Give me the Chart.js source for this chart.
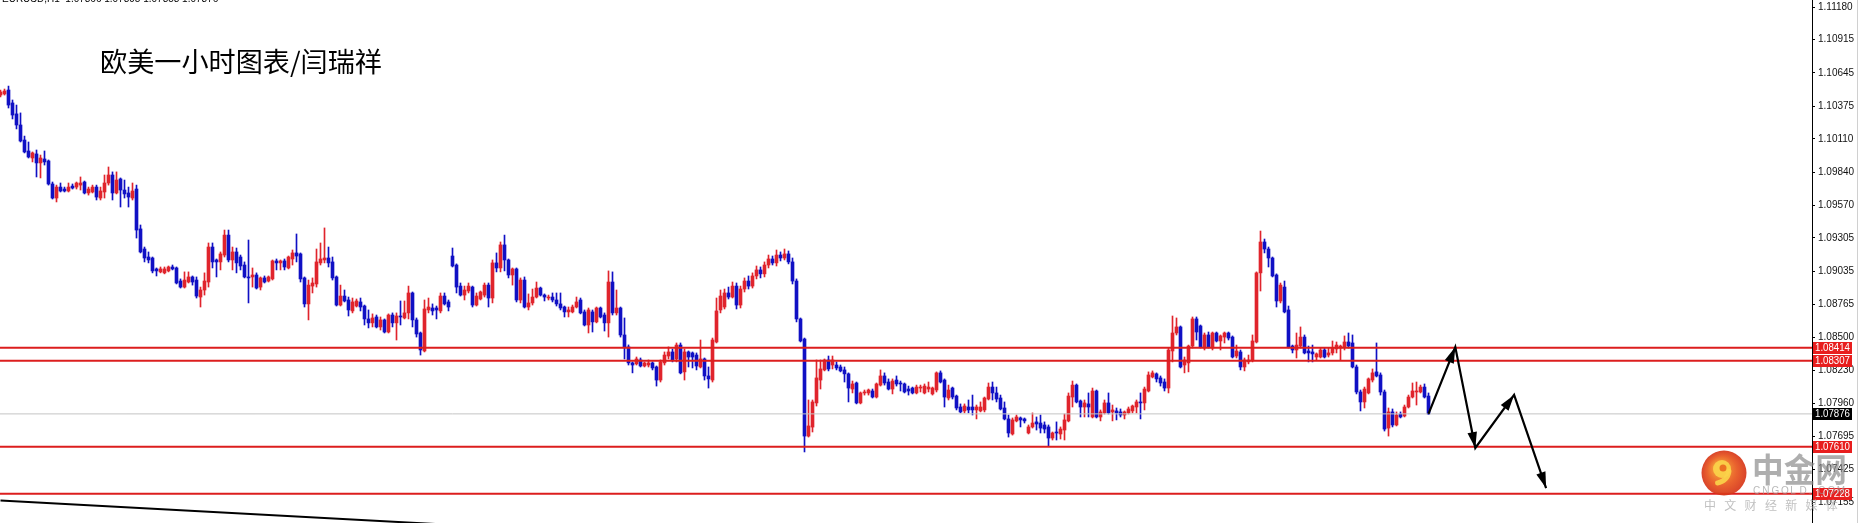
<!DOCTYPE html>
<html><head><meta charset="utf-8">
<script src="https://cdn.jsdelivr.net/npm/chart.js@4.4.1/dist/chart.umd.min.js"></script>
<style>html,body{margin:0;padding:0;background:#fff;overflow:hidden}canvas{display:block}</style>
</head><body>
<canvas id="c" width="1858" height="523"></canvas>
<script>
// ---- data (EURUSD H1) ----
const opens = [
1.10465,1.10474,1.10506,1.10401,1.10312,1.10222,1.10100,1.10011,1.09954,1.09987,
1.09914,1.09946,1.09930,1.09743,1.09629,1.09718,1.09702,1.09686,1.09726,1.09718,
1.09734,1.09759,1.09670,1.09678,1.09718,1.09629,1.09678,1.09751,1.09816,1.09670,
1.09784,1.09694,1.09670,1.09629,1.09702,1.09378,1.09215,1.09150,1.09142,1.09053,
1.09029,1.09021,1.09037,1.09069,1.09061,1.08955,1.08906,1.08947,1.08988,1.08963,
1.08825,1.08882,1.08947,1.09231,1.09126,1.09110,1.09166,1.09328,1.09126,1.09191,
1.09150,1.09085,1.08988,1.08988,1.09004,1.08906,1.08980,1.08955,1.08972,1.09118,
1.09102,1.09118,1.09061,1.09134,1.09183,1.09175,1.08980,1.08769,1.08914,1.08931,
1.09102,1.09126,1.09142,1.09110,1.08988,1.08760,1.08833,1.08801,1.08712,1.08752,
1.08785,1.08752,1.08647,1.08615,1.08663,1.08582,1.08639,1.08541,1.08679,1.08615,
1.08671,1.08655,1.08696,1.08858,1.08639,1.08533,1.08387,1.08720,1.08736,1.08736,
1.08712,1.08833,1.08785,1.09158,1.09085,1.08914,1.08841,1.08874,1.08906,1.08760,
1.08809,1.08841,1.08922,1.08817,1.09102,1.09061,1.09248,1.09126,1.09004,1.09053,
1.08801,1.08963,1.08744,1.08777,1.08825,1.08898,1.08841,1.08817,1.08825,1.08801,
1.08769,1.08744,1.08704,1.08704,1.08744,1.08801,1.08704,1.08598,1.08704,1.08623,
1.08736,1.08679,1.08615,1.08947,1.08696,1.08736,1.08517,1.08420,1.08290,1.08282,
1.08314,1.08265,1.08273,1.08290,1.08257,1.08151,1.08290,1.08346,1.08379,1.08322,
1.08435,1.08217,1.08379,1.08371,1.08354,1.08257,1.08322,1.08184,1.08151,1.08460,
1.08720,1.08744,1.08858,1.08825,1.08914,1.08760,1.08890,1.08955,1.08914,1.08996,
1.09045,1.09013,1.09085,1.09134,1.09102,1.09166,1.09142,1.09175,1.09110,1.08955,
1.08647,1.08484,1.07696,1.07769,1.07965,1.08151,1.08233,1.08314,1.08273,1.08273,
1.08257,1.08233,1.08201,1.08078,1.08127,1.07965,1.08046,1.08046,1.08062,1.08013,
1.08110,1.08184,1.08135,1.08078,1.08151,1.08127,1.08119,1.08078,1.08086,1.08046,
1.08086,1.08046,1.08078,1.08038,1.08070,1.08209,1.08151,1.08005,1.08086,1.08021,
1.07932,1.07900,1.07932,1.07932,1.07908,1.07900,1.07908,1.07997,1.08094,1.08046,
1.08005,1.07924,1.07835,1.07713,1.07819,1.07843,1.07835,1.07721,1.07770,1.07811,
1.07802,1.07786,1.07770,1.07680,1.07729,1.07713,1.07745,1.07819,1.08013,1.08110,
1.07981,1.07932,1.07957,1.07851,1.08062,1.07851,1.07884,1.07965,1.07892,1.07900,
1.07892,1.07867,1.07884,1.07900,1.07932,1.07973,1.07965,1.08062,1.08176,1.08201,
1.08168,1.08135,1.08086,1.08387,1.08533,1.08582,1.08273,1.08290,1.08427,1.08647,
1.08590,1.08411,1.08517,1.08411,1.08533,1.08468,1.08500,1.08533,1.08500,1.08346,
1.08379,1.08257,1.08298,1.08314,1.08460,1.09021,1.09272,1.09215,1.09142,1.09004,
1.08793,1.08906,1.08720,1.08427,1.08395,1.08427,1.08500,1.08387,1.08379,1.08338,
1.08338,1.08395,1.08354,1.08371,1.08403,1.08411,1.08420,1.08460,1.08452,1.08257,
1.08054,1.07973,1.08046,1.08151,1.08217,1.08192,1.08054,1.07761,1.07892,1.07786,
1.07875,1.07859,1.07932,1.08013,1.08054,1.08054,1.08094,1.08021];
const highs = [
1.10506,1.10514,1.10538,1.10425,1.10384,1.10320,1.10132,1.10084,1.10003,1.10019,
1.09978,1.10011,1.09938,1.09759,1.09734,1.09751,1.09718,1.09751,1.09743,1.09759,
1.09800,1.09767,1.09718,1.09734,1.09734,1.09718,1.09816,1.09881,1.09841,1.09841,
1.09792,1.09775,1.09718,1.09751,1.09734,1.09410,1.09231,1.09191,1.09150,1.09061,
1.09069,1.09069,1.09077,1.09085,1.09069,1.08972,1.09029,1.09029,1.08996,1.08988,
1.08906,1.09021,1.09264,1.09264,1.09134,1.09191,1.09369,1.09369,1.09231,1.09223,
1.09166,1.09110,1.09288,1.09061,1.09021,1.08988,1.08996,1.08996,1.09126,1.09134,
1.09126,1.09134,1.09158,1.09207,1.09337,1.09183,1.08988,1.08963,1.08980,1.09215,
1.09264,1.09386,1.09231,1.09150,1.08996,1.08922,1.08882,1.08825,1.08817,1.08809,
1.08817,1.08760,1.08720,1.08688,1.08679,1.08663,1.08647,1.08688,1.08696,1.08696,
1.08793,1.08793,1.08914,1.08866,1.08655,1.08541,1.08801,1.08817,1.08769,1.08752,
1.08858,1.08858,1.08801,1.09223,1.09094,1.08939,1.08914,1.08939,1.08914,1.08858,
1.08874,1.08939,1.08939,1.09126,1.09183,1.09272,1.09328,1.09134,1.09061,1.09061,
1.08980,1.08988,1.08850,1.08890,1.08947,1.08906,1.08850,1.08841,1.08858,1.08858,
1.08858,1.08752,1.08744,1.08760,1.08825,1.08817,1.08720,1.08736,1.08720,1.08744,
1.08744,1.08696,1.09037,1.09029,1.08882,1.08744,1.08655,1.08436,1.08298,1.08338,
1.08330,1.08298,1.08314,1.08298,1.08265,1.08314,1.08379,1.08420,1.08403,1.08452,
1.08452,1.08403,1.08387,1.08379,1.08371,1.08476,1.08330,1.08257,1.08492,1.08817,
1.08882,1.08890,1.08906,1.08947,1.08939,1.08914,1.08980,1.08996,1.09021,1.09077,
1.09069,1.09110,1.09166,1.09158,1.09207,1.09191,1.09215,1.09199,1.09142,1.08972,
1.08655,1.08492,1.07989,1.07989,1.08314,1.08314,1.08322,1.08346,1.08346,1.08298,
1.08273,1.08257,1.08209,1.08143,1.08135,1.08054,1.08070,1.08078,1.08078,1.08127,
1.08233,1.08209,1.08160,1.08160,1.08184,1.08143,1.08127,1.08102,1.08094,1.08110,
1.08110,1.08119,1.08135,1.08094,1.08217,1.08225,1.08160,1.08110,1.08094,1.08029,
1.07957,1.07957,1.07989,1.08029,1.07948,1.07973,1.08013,1.08127,1.08135,1.08094,
1.08029,1.07973,1.07867,1.07843,1.07867,1.07851,1.07843,1.07786,1.07884,1.07851,
1.07867,1.07811,1.07786,1.07729,1.07811,1.07770,1.07875,1.08046,1.08143,1.08119,
1.07989,1.07989,1.08046,1.08086,1.08070,1.07908,1.07989,1.08046,1.07948,1.07924,
1.07916,1.07900,1.07932,1.07948,1.07989,1.08046,1.08094,1.08217,1.08225,1.08209,
1.08184,1.08160,1.08411,1.08671,1.08655,1.08590,1.08338,1.08435,1.08663,1.08663,
1.08598,1.08533,1.08541,1.08541,1.08541,1.08517,1.08541,1.08541,1.08509,1.08435,
1.08395,1.08330,1.08354,1.08517,1.09029,1.09361,1.09296,1.09231,1.09150,1.09013,
1.08939,1.08955,1.08752,1.08435,1.08533,1.08582,1.08517,1.08427,1.08435,1.08371,
1.08411,1.08411,1.08411,1.08468,1.08460,1.08435,1.08509,1.08533,1.08517,1.08273,
1.08070,1.08094,1.08168,1.08241,1.08452,1.08209,1.08070,1.07924,1.07916,1.07892,
1.07892,1.07948,1.08029,1.08127,1.08135,1.08110,1.08119,1.08046];
const lows = [
1.10449,1.10465,1.10360,1.10271,1.10190,1.10084,1.09995,1.09954,1.09922,1.09800,
1.09792,1.09897,1.09734,1.09621,1.09597,1.09678,1.09678,1.09678,1.09702,1.09702,
1.09694,1.09662,1.09653,1.09670,1.09613,1.09613,1.09629,1.09734,1.09613,1.09662,
1.09556,1.09629,1.09556,1.09613,1.09304,1.09183,1.09110,1.09102,1.09021,1.08996,
1.09021,1.09013,1.09029,1.09045,1.08931,1.08898,1.08898,1.08939,1.08922,1.08817,
1.08744,1.08841,1.08906,1.09061,1.08988,1.09045,1.09150,1.09110,1.09045,1.09021,
1.09045,1.08980,1.08777,1.08906,1.08890,1.08882,1.08939,1.08947,1.08963,1.09045,
1.09045,1.09045,1.09053,1.09085,1.09110,1.08947,1.08744,1.08639,1.08858,1.08906,
1.09085,1.09102,1.09069,1.08963,1.08752,1.08752,1.08785,1.08671,1.08696,1.08744,
1.08712,1.08598,1.08574,1.08582,1.08574,1.08557,1.08533,1.08533,1.08582,1.08476,
1.08598,1.08647,1.08647,1.08582,1.08500,1.08354,1.08379,1.08696,1.08679,1.08647,
1.08696,1.08760,1.08712,1.09069,1.08858,1.08833,1.08801,1.08858,1.08744,1.08752,
1.08801,1.08825,1.08744,1.08777,1.09029,1.09029,1.09037,1.08980,1.08922,1.08785,
1.08777,1.08736,1.08720,1.08760,1.08817,1.08833,1.08793,1.08801,1.08785,1.08752,
1.08720,1.08663,1.08663,1.08696,1.08736,1.08688,1.08590,1.08533,1.08541,1.08615,
1.08655,1.08549,1.08500,1.08679,1.08679,1.08500,1.08322,1.08273,1.08209,1.08273,
1.08257,1.08257,1.08257,1.08233,1.08102,1.08135,1.08273,1.08322,1.08298,1.08298,
1.08201,1.08151,1.08257,1.08249,1.08233,1.08249,1.08151,1.08086,1.08135,1.08452,
1.08696,1.08728,1.08809,1.08817,1.08728,1.08736,1.08866,1.08890,1.08898,1.08972,
1.08980,1.08988,1.09061,1.09085,1.09077,1.09118,1.09126,1.09094,1.08931,1.08623,
1.08460,1.07567,1.07688,1.07729,1.07940,1.08078,1.08225,1.08225,1.08241,1.08233,
1.08217,1.08135,1.07973,1.08046,1.07957,1.07957,1.08029,1.08029,1.08005,1.08005,
1.08102,1.08110,1.08070,1.08038,1.08102,1.08062,1.08046,1.08029,1.08038,1.08038,
1.08054,1.08038,1.08054,1.08029,1.08054,1.08127,1.07932,1.07989,1.07997,1.07908,
1.07884,1.07884,1.07884,1.07867,1.07835,1.07892,1.07892,1.07989,1.07989,1.07973,
1.07908,1.07827,1.07688,1.07704,1.07811,1.07770,1.07802,1.07713,1.07761,1.07745,
1.07721,1.07721,1.07615,1.07664,1.07664,1.07672,1.07664,1.07811,1.07932,1.07965,
1.07851,1.07851,1.07851,1.07843,1.07843,1.07819,1.07875,1.07875,1.07819,1.07827,
1.07851,1.07835,1.07875,1.07884,1.07884,1.07835,1.07908,1.08054,1.08168,1.08135,
1.08102,1.08062,1.08046,1.08298,1.08517,1.08249,1.08209,1.08217,1.08411,1.08476,
1.08411,1.08395,1.08411,1.08395,1.08460,1.08395,1.08452,1.08476,1.08330,1.08330,
1.08233,1.08225,1.08282,1.08298,1.08452,1.08874,1.09183,1.09069,1.08988,1.08744,
1.08777,1.08696,1.08411,1.08371,1.08330,1.08411,1.08363,1.08298,1.08298,1.08314,
1.08330,1.08330,1.08338,1.08354,1.08371,1.08314,1.08395,1.08411,1.08249,1.08038,
1.07900,1.07924,1.08038,1.08135,1.08176,1.08029,1.07737,1.07696,1.07770,1.07778,
1.07843,1.07851,1.07924,1.08005,1.07948,1.08046,1.08005,1.07870];
const closes = [
1.10490,1.10498,1.10384,1.10303,1.10222,1.10092,1.10003,1.09962,1.09995,1.09914,
1.09954,1.09922,1.09743,1.09629,1.09718,1.09686,1.09686,1.09718,1.09710,1.09751,
1.09751,1.09670,1.09702,1.09718,1.09637,1.09686,1.09751,1.09816,1.09670,1.09775,
1.09694,1.09662,1.09637,1.09686,1.09369,1.09191,1.09142,1.09126,1.09037,1.09037,
1.09053,1.09053,1.09069,1.09053,1.08939,1.08906,1.08963,1.08988,1.08947,1.08833,
1.08882,1.08955,1.09231,1.09110,1.09110,1.09175,1.09328,1.09126,1.09191,1.09102,
1.09077,1.08988,1.08980,1.09004,1.08898,1.08980,1.08947,1.08988,1.09118,1.09102,
1.09118,1.09069,1.09150,1.09183,1.09158,1.08972,1.08769,1.08922,1.08939,1.09110,
1.09134,1.09142,1.09102,1.08980,1.08760,1.08833,1.08793,1.08720,1.08785,1.08793,
1.08744,1.08647,1.08615,1.08655,1.08582,1.08639,1.08541,1.08679,1.08615,1.08671,
1.08663,1.08696,1.08858,1.08639,1.08525,1.08395,1.08728,1.08744,1.08712,1.08720,
1.08833,1.08769,1.08744,1.09077,1.08906,1.08841,1.08882,1.08914,1.08760,1.08833,
1.08866,1.08922,1.08817,1.09102,1.09061,1.09248,1.09126,1.09004,1.09053,1.08801,
1.08963,1.08744,1.08777,1.08825,1.08898,1.08841,1.08825,1.08825,1.08801,1.08769,
1.08736,1.08704,1.08720,1.08744,1.08785,1.08696,1.08598,1.08720,1.08623,1.08736,
1.08663,1.08615,1.08947,1.08696,1.08736,1.08517,1.08420,1.08290,1.08273,1.08322,
1.08265,1.08290,1.08290,1.08249,1.08151,1.08298,1.08354,1.08379,1.08314,1.08435,
1.08209,1.08379,1.08338,1.08338,1.08265,1.08322,1.08184,1.08160,1.08476,1.08712,
1.08833,1.08858,1.08825,1.08914,1.08760,1.08890,1.08955,1.08914,1.08996,1.09045,
1.09013,1.09085,1.09134,1.09102,1.09166,1.09142,1.09175,1.09110,1.08955,1.08647,
1.08468,1.07696,1.07778,1.07973,1.08168,1.08241,1.08314,1.08241,1.08314,1.08249,
1.08225,1.08201,1.08086,1.08119,1.07965,1.08046,1.08054,1.08070,1.08013,1.08119,
1.08184,1.08127,1.08078,1.08143,1.08119,1.08119,1.08054,1.08062,1.08046,1.08094,
1.08094,1.08102,1.08094,1.08086,1.08209,1.08135,1.08013,1.08070,1.08013,1.07924,
1.07892,1.07940,1.07908,1.07908,1.07932,1.07932,1.08005,1.08094,1.08046,1.07997,
1.07916,1.07835,1.07721,1.07827,1.07851,1.07827,1.07819,1.07770,1.07802,1.07794,
1.07761,1.07753,1.07680,1.07721,1.07721,1.07753,1.07827,1.08021,1.08110,1.07973,
1.07932,1.07965,1.07932,1.08062,1.07851,1.07892,1.07965,1.07884,1.07908,1.07884,
1.07867,1.07892,1.07916,1.07940,1.07973,1.07965,1.08078,1.08192,1.08209,1.08160,
1.08127,1.08086,1.08395,1.08533,1.08582,1.08257,1.08314,1.08427,1.08647,1.08541,
1.08420,1.08517,1.08420,1.08533,1.08468,1.08509,1.08533,1.08492,1.08338,1.08387,
1.08257,1.08314,1.08314,1.08468,1.09021,1.09272,1.09215,1.09142,1.08996,1.08793,
1.08922,1.08704,1.08420,1.08395,1.08435,1.08500,1.08371,1.08371,1.08363,1.08363,
1.08395,1.08338,1.08371,1.08411,1.08435,1.08427,1.08460,1.08427,1.08257,1.08054,
1.07973,1.08078,1.08160,1.08209,1.08184,1.08054,1.07753,1.07892,1.07786,1.07867,
1.07851,1.07932,1.08013,1.08062,1.08062,1.08094,1.08013,1.07876];

const tickValues = [1.11180,1.10915,1.10645,1.10375,1.10110,1.09840,1.09570,1.09305,1.09035,1.08765,1.08500,1.08230,1.07960,1.07695,1.07425,1.07155];
const levelValues = [1.08414, 1.08307, 1.07610, 1.07228];
const bidValue = 1.07876;
const arrowIdx = [357, 363.7, 368.7, 378.4, 386.4];
const arrowPrice = [1.07876, 1.08419, 1.07599, 1.08030, 1.07274];
const trendIdx = [0, 215];
const trendPrice = [1.07173, 1.06795];
const titleText = '欧美一小时图表/闫瑞祥';
const headerText = 'EURUSD,H1  1.07866 1.07895 1.07858 1.07876';
const wmMain = '中金网', wmSite = 'CNGOLD.COM', wmSlogan = '中文财经新媒体';

// ---- styles ----
const UP = '#e0242c', DOWN = '#1010c4', LEVEL = '#dc1e1e';
const isUp = i => closes[i] > opens[i];
const candleColor = c => isUp(c.dataIndex) ? UP : DOWN;

const wickData = opens.map((o, i) => ({x: i, y: [lows[i], highs[i]]}));
const bodyData = opens.map((o, i) => ({x: i, y: [opens[i], closes[i]]}));

const datasets = [
  {type: 'line', data: arrowIdx.map((x, i) => ({x, y: arrowPrice[i]})), borderColor: '#000', borderWidth: 2.2,
   pointRadius: 0, order: 0, tension: 0},
  ...levelValues.map(v => ({type: 'line', data: [{x: -10, y: v}, {x: 470, y: v}], borderColor: LEVEL,
   borderWidth: 2, pointRadius: 0, order: 1})),
  {type: 'line', data: [{x: -10, y: bidValue}, {x: 470, y: bidValue}], borderColor: '#c4c4c4', borderWidth: 1, pointRadius: 0, order: 2},
  {type: 'line', data: trendIdx.map((x, i) => ({x, y: trendPrice[i]})), borderColor: '#000', borderWidth: 2, pointRadius: 0, order: 2},
  {type: 'bar', data: bodyData, backgroundColor: candleColor, barThickness: 3, minBarLength: 1, grouped: false, borderWidth: 0, order: 3},
  {type: 'bar', data: wickData, backgroundColor: candleColor, barThickness: 1, grouped: false, borderWidth: 0, order: 4}
];

function fitText(ctx, txt, x, y, w) {
  const m = ctx.measureText(txt).width;
  ctx.save();
  ctx.translate(x, y);
  ctx.scale(w / m, 1);
  ctx.fillText(txt, 0, 0);
  ctx.restore();
}

const overlay = {
  id: 'overlay',
  afterDraw(chart) {
    const ctx = chart.ctx, ys = chart.scales.y;
    ctx.save();
    // arrow heads
    const meta = chart.getDatasetMeta(0);
    const pts = meta.data.map(p => ({x: p.x, y: p.y}));
    for (let k = 1; k < pts.length; k++) {
      const a = pts[k - 1], b = pts[k];
      const ang = Math.atan2(b.y - a.y, b.x - a.x);
      const L = 16, W = 4.8;
      ctx.beginPath();
      ctx.moveTo(b.x, b.y);
      ctx.lineTo(b.x - L * Math.cos(ang) + W * Math.sin(ang), b.y - L * Math.sin(ang) - W * Math.cos(ang));
      ctx.lineTo(b.x - L * Math.cos(ang) - W * Math.sin(ang), b.y - L * Math.sin(ang) + W * Math.cos(ang));
      ctx.closePath();
      ctx.fillStyle = '#000';
      ctx.fill();
    }
    // price boxes on the axis
    const x0 = ys.left + 1;
    ctx.font = '10px "Liberation Sans", Arial, sans-serif';
    ctx.textBaseline = 'middle';
    ctx.textAlign = 'left';
    const boxes = levelValues.map(v => [v, '#e81e1e']).concat([[bidValue, '#000']]);
    boxes.forEach(([v, bg]) => {
      const y = Math.round(ys.getPixelForValue(v));
      ctx.fillStyle = bg;
      ctx.fillRect(x0, y - 6, 39, 12);
      ctx.fillStyle = '#fff';
      fitText(ctx, v.toFixed(5), x0 + 2, y + 0.5, 35);
    });
    // right border
    ctx.fillStyle = '#d0d0d0';
    ctx.fillRect(1857, 0, 1, 523);
    // header and title
    ctx.fillStyle = '#000';
    ctx.font = '10px "Liberation Sans", Arial, sans-serif';
    ctx.textBaseline = 'alphabetic';
    ctx.fillText(headerText, 2, 2);
    ctx.font = '27px "Noto Sans CJK SC", sans-serif';
    ctx.textBaseline = 'middle';
    fitText(ctx, titleText, 100, 62, 282);
    // watermark
    const cx = 1724, cy = 473, r = 22.5;
    const g = ctx.createRadialGradient(cx - 5, cy - 6, 3, cx, cy, r);
    g.addColorStop(0, '#f7a12a'); g.addColorStop(0.6, '#e8551c'); g.addColorStop(1, '#d63418');
    ctx.globalAlpha = 0.92;
    ctx.fillStyle = g;
    ctx.beginPath(); ctx.arc(cx, cy, r, 0, Math.PI * 2); ctx.fill();
    ctx.fillStyle = '#fbd24a';
    ctx.beginPath(); ctx.arc(cx - 2, cy - 4, 9, 0, Math.PI * 2); ctx.fill();
    ctx.fillStyle = '#ea6a1e';
    ctx.beginPath(); ctx.arc(cx - 1, cy - 5, 3.5, 0, Math.PI * 2); ctx.fill();
    ctx.strokeStyle = '#fbd24a'; ctx.lineWidth = 5; ctx.lineCap = 'round';
    ctx.beginPath(); ctx.arc(cx - 8, cy - 3, 13, 0.1, 1.45); ctx.stroke();
    ctx.globalAlpha = 0.7;
    ctx.fillStyle = '#8c8c8c';
    ctx.font = 'bold 33px "Noto Sans CJK SC", sans-serif';
    ctx.textBaseline = 'middle';
    fitText(ctx, wmMain, 1752, 469, 95);
    ctx.font = '10px "Liberation Sans", Arial, sans-serif';
    ctx.fillStyle = '#9a9a9a';
    [...wmSite].forEach((ch, k) => ctx.fillText(ch, 1753 + k * 9.3, 491));
    ctx.font = '12px "Noto Sans CJK SC", sans-serif';
    ctx.fillStyle = '#a6a6a6';
    [...wmSlogan].forEach((ch, k) => ctx.fillText(ch, 1704 + k * 20.3, 505));
    ctx.restore();
  }
};

new Chart(document.getElementById('c'), {
  type: 'bar',
  data: {datasets},
  options: {
    responsive: false, animation: false, devicePixelRatio: 1, events: [],
    layout: {padding: 0},
    plugins: {legend: {display: false}, tooltip: {enabled: false}, title: {display: false}},
    scales: {
      x: {type: 'linear', display: false, offset: false, min: -0.125, max: 452.875},
      y: {
        position: 'right', min: 1.06990, max: 1.11237,
        afterBuildTicks: s => { s.ticks = tickValues.map(v => ({value: v})); },
        afterFit: s => { s.width = 46; s.paddingTop = 0; s.paddingBottom = 0; },
        ticks: {autoSkip: false, padding: 3, color: '#111', font: {family: '"Liberation Sans", Arial, sans-serif', size: 10},
                callback: v => Number(v).toFixed(5)},
        grid: {display: true, drawOnChartArea: false, drawTicks: true, tickLength: 3, color: '#000'},
        border: {display: true, color: '#000', width: 1}
      }
    }
  },
  plugins: [overlay]
});
</script>
</body></html>
